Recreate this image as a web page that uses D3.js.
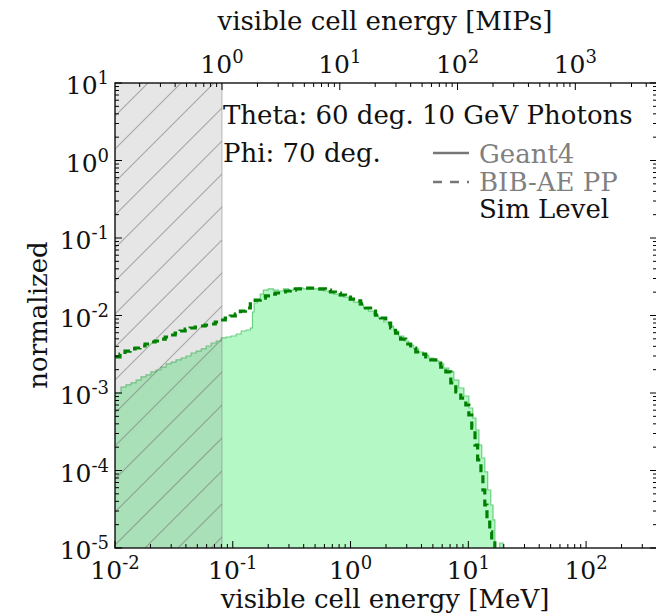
<!DOCTYPE html>
<html><head><meta charset="utf-8">
<script src="https://cdn.jsdelivr.net/npm/d3@7"></script>
<style>body{margin:0;background:#fff}</style>
</head><body>
<svg id="c" width="656" height="615"></svg>
<script>
// ---- data ----
// Geant4: left bin edges (MeV) and normalized values (step histogram)
const g4Energy = [0.0100,0.01125,0.0124,0.01368,0.0151,0.01664,0.01835,0.0202,0.0223,0.0246,0.0272,0.0300,0.0330,0.0365,0.0402,0.0443,0.0489,0.0540,0.0595,0.0656,0.0724,0.0798,0.0881,0.0971,0.107,0.118,0.130,0.141,0.147,0.152,0.162,0.171,0.182,0.200,0.221,0.244,0.269,0.297,0.327,0.361,0.398,0.439,0.484,0.535,0.589,0.650,0.717,0.791,0.872,0.962,1.06,1.17,1.29,1.42,1.57,1.73,1.91,2.10,2.32,2.56,2.83,3.12,3.44,3.79,4.18,4.61,5.08,5.61,6.18,6.82,7.53,8.30,9.16,10.1,10.9,11.6,12.3,13.0,13.8,14.6,15.5,16.2,16.8,18.5,19.7];
const g4Value = [1.00e-3,1.19e-3,1.27e-3,1.35e-3,1.47e-3,1.61e-3,1.71e-3,1.87e-3,1.98e-3,2.16e-3,2.37e-3,2.51e-3,2.67e-3,2.83e-3,3.00e-3,3.28e-3,3.48e-3,3.70e-3,4.04e-3,4.42e-3,4.69e-3,5.13e-3,5.28e-3,5.44e-3,5.77e-3,6.31e-3,6.50e-3,6.90e-3,0.0111,0.0145,0.0158,0.0189,0.0213,0.0220,0.0213,0.0207,0.0220,0.0213,0.0220,0.0226,0.0220,0.0226,0.0220,0.0213,0.0207,0.0201,0.0189,0.0179,0.0173,0.0158,0.0149,0.0136,0.0125,0.0114,0.0101,0.00929,0.00824,0.00732,0.00631,0.00544,0.00469,0.00416,0.00370,0.00338,0.00309,0.00283,0.00259,0.00237,0.00210,0.00187,0.00147,0.00116,9.15e-4,6.40e-4,4.75e-4,3.33e-4,2.13e-4,1.45e-4,9.6e-5,5.6e-5,3.59e-5,2.30e-5,1e-7,1.16e-5,1e-7];
// BIB-AE PP: left bin edges (MeV) and normalized values
const aeEnergy = [0.0100,0.01103,0.01216,0.01342,0.01480,0.0163,0.0180,0.0199,0.0219,0.0242,0.0267,0.0294,0.0324,0.0357,0.0394,0.0435,0.0480,0.0529,0.0583,0.0644,0.0710,0.0783,0.0863,0.0952,0.105,0.116,0.128,0.141,0.155,0.171,0.189,0.209,0.230,0.254,0.280,0.308,0.340,0.375,0.414,0.457,0.504,0.556,0.613,0.676,0.745,0.822,0.906,1.00,1.10,1.22,1.34,1.48,1.63,1.80,1.99,2.19,2.41,2.66,2.94,3.24,3.58,3.94,4.35,4.80,5.29,5.83,6.44,7.10,7.83,8.63,9.52,10.1,10.7,11.4,12.0,12.8,13.3,13.8,14.4,15.2,15.8,16.8];
const aeValue = [2.92e-3,3.18e-3,3.48e-3,3.70e-3,3.81e-3,4.04e-3,4.29e-3,4.55e-3,4.69e-3,4.97e-3,5.28e-3,5.60e-3,5.94e-3,6.31e-3,6.70e-3,6.90e-3,7.11e-3,7.32e-3,7.54e-3,7.77e-3,8.24e-3,8.75e-3,9.28e-3,9.85e-3,0.0104,0.0114,0.0125,0.0141,0.0158,0.0168,0.0179,0.0189,0.0195,0.0201,0.0207,0.0213,0.0220,0.0220,0.0226,0.0226,0.0220,0.0220,0.0213,0.0201,0.0195,0.0184,0.0173,0.0163,0.0154,0.0141,0.0125,0.0114,0.0101,0.00929,0.00800,0.00690,0.00594,0.00497,0.00429,0.00381,0.00338,0.00318,0.00292,0.00267,0.00244,0.00216,0.00187,1.35e-3,1.03e-3,8.6e-4,7.0e-4,5.2e-4,3.53e-4,2.13e-4,1.37e-4,8.7e-5,5.6e-5,3.59e-5,2.30e-5,1.61e-5,1.27e-5,1e-7];

const xMajorTicks = [1e-2,1e-1,1e0,1e1,1e2];
const xTickExps = ["-2","-1","0","1","2"];
const yMajorTicks = [1e1,1e0,1e-1,1e-2,1e-3,1e-4,1e-5];
const yTickExps = ["1","0","-1","-2","-3","-4","-5"];
const mipTicks = [1e0,1e1,1e2,1e3];
const mipTickExps = ["0","1","2","3"];
const mipInMeV = 0.081;       // 1 MIP in MeV (top axis conversion)
const cutMeV = 0.081;         // hatched region upper edge
const textLines = ["Theta: 60 deg. 10 GeV Photons","Phi: 70 deg."];
const legendNames = ["Geant4","BIB-AE PP","Sim Level"];

// ---- layout ----
const L=115, R=657, T=83, B=548;
const FONT = "DejaVu Serif";
const FS = 26, TFS = 25, SFS = 18;
const svg = d3.select("#c");
const x = d3.scaleLog().domain([1e-2,400]).range([L,R]);
const y = d3.scaleLog().domain([1e-5,1e1]).range([B,T]);
const xm = d3.scaleLog().domain([1e-2/mipInMeV, 400/mipInMeV]).range([L,R]);

const defs = svg.append("defs");
defs.append("clipPath").attr("id","clip").append("rect")
  .attr("x",L).attr("y",T).attr("width",R-L).attr("height",B-T);
const pat = defs.append("pattern").attr("id","hatch").attr("patternUnits","userSpaceOnUse")
  .attr("width",33).attr("height",33);
pat.append("path").attr("d","M0,33 L33,0 M-8,8 L8,-8 M25,41 L41,25")
  .attr("stroke","#707070").attr("stroke-opacity",0.55).attr("stroke-width",1.1);

const plot = svg.append("g").attr("clip-path","url(#clip)");

// Geant4 filled histogram
const g4 = g4Energy.map((e,i)=>({e, v:g4Value[i]}));
const yc = v => Math.min(y(Math.max(v,1e-7)), B+5);
plot.append("path").datum(g4)
  .attr("d", d3.area().curve(d3.curveStepAfter).x(d=>x(d.e)).y0(B+5).y1(d=>yc(d.v)))
  .attr("fill","#b4f8c6").attr("stroke","none");
plot.append("path").datum(g4)
  .attr("d", d3.line().curve(d3.curveStepAfter).x(d=>x(d.e)).y(d=>yc(d.v)))
  .attr("fill","none").attr("stroke","#6ccf82").attr("stroke-width",1.2);

// hatched cut region
plot.append("rect").attr("x",x(1e-2)).attr("y",T).attr("width",x(cutMeV)-x(1e-2)).attr("height",B-T)
  .attr("fill","#808080").attr("fill-opacity",0.2);
plot.append("rect").attr("x",x(1e-2)).attr("y",T).attr("width",x(cutMeV)-x(1e-2)).attr("height",B-T)
  .attr("fill","url(#hatch)").attr("stroke","#808080").attr("stroke-opacity",0.5);

// BIB-AE dashed
const ae = aeEnergy.map((e,i)=>({e, v:aeValue[i]}));
plot.append("path").datum(ae)
  .attr("d", d3.line().curve(d3.curveStepAfter).x(d=>x(d.e)).y(d=>yc(d.v)))
  .attr("fill","none").attr("stroke","#008000").attr("stroke-width",3.2).attr("stroke-dasharray","8,5");

// frame
svg.append("rect").attr("x",L).attr("y",T).attr("width",R-L).attr("height",B-T)
  .attr("fill","none").attr("stroke","#222").attr("stroke-width",1.5);

// ticks
function minorOf(scale){ return scale.ticks().filter(t=>{const l=Math.log10(t);return Math.abs(l-Math.round(l))>1e-6;}); }
const tk = svg.append("g").attr("stroke","#000").attr("stroke-width",1);
const xMinor = minorOf(x), yMinor = minorOf(y), mMinor = minorOf(xm);
xMajorTicks.forEach(t=>{const p=x(t); tk.append("line").attr("x1",p).attr("x2",p).attr("y1",B).attr("y2",B-7);});
xMinor.forEach(t=>{const p=x(t); tk.append("line").attr("x1",p).attr("x2",p).attr("y1",B).attr("y2",B-4);});
mipTicks.forEach(t=>{const p=xm(t); tk.append("line").attr("x1",p).attr("x2",p).attr("y1",T).attr("y2",T+7);});
mMinor.forEach(t=>{const p=xm(t); tk.append("line").attr("x1",p).attr("x2",p).attr("y1",T).attr("y2",T+4);});
yMajorTicks.forEach(t=>{const p=y(t); tk.append("line").attr("x1",L).attr("x2",L+7).attr("y1",p).attr("y2",p);
  tk.append("line").attr("x1",R).attr("x2",R-7).attr("y1",p).attr("y2",p);});
yMinor.forEach(t=>{const p=y(t); tk.append("line").attr("x1",L).attr("x2",L+4).attr("y1",p).attr("y2",p);
  tk.append("line").attr("x1",R).attr("x2",R-4).attr("y1",p).attr("y2",p);});

// tick labels
function powLabel(g, px, py, exp, anchor){
  const t = g.append("text").attr("x",px).attr("y",py).attr("text-anchor",anchor)
    .attr("font-family",FONT).attr("font-size",TFS).attr("fill","#111");
  t.append("tspan").text("10");
  t.append("tspan").attr("font-size",SFS).attr("dy",-10).text(exp);
  return t;
}
const lab = svg.append("g");
xMajorTicks.forEach((t,i)=>powLabel(lab, x(t), 579, xTickExps[i], "middle"));
mipTicks.forEach((t,i)=>powLabel(lab, xm(t), 73, mipTickExps[i], "middle"));
yMajorTicks.forEach((t,i)=>powLabel(lab, 109, y(t)+11, yTickExps[i], "end"));

// axis titles
svg.append("text").attr("x",385).attr("y",608).attr("text-anchor","middle")
  .attr("font-family",FONT).attr("font-size",FS).attr("fill","#111").text("visible cell energy [MeV]");
svg.append("text").attr("x",385).attr("y",30).attr("text-anchor","middle")
  .attr("font-family",FONT).attr("font-size",FS).attr("fill","#111").text("visible cell energy [MIPs]");
svg.append("text").attr("transform","translate(47,315) rotate(-90)").attr("text-anchor","middle")
  .attr("font-family",FONT).attr("font-size",FS).attr("fill","#111").text("normalized");

// annotations
svg.append("text").attr("x",223).attr("y",124).attr("font-family",FONT).attr("font-size",FS).attr("fill","#111").text(textLines[0]);
svg.append("text").attr("x",223).attr("y",162).attr("font-family",FONT).attr("font-size",FS).attr("fill","#111").text(textLines[1]);

// legend
const lg = svg.append("g");
lg.append("line").attr("x1",433).attr("x2",469).attr("y1",153).attr("y2",153).attr("stroke","#777").attr("stroke-width",2.5);
lg.append("line").attr("x1",433).attr("x2",469).attr("y1",182).attr("y2",182).attr("stroke","#777").attr("stroke-width",2.5).attr("stroke-dasharray","9,8");
lg.append("text").attr("x",479).attr("y",163).attr("font-family",FONT).attr("font-size",FS).attr("fill","#808080").text(legendNames[0]);
lg.append("text").attr("x",479).attr("y",191).attr("font-family",FONT).attr("font-size",FS).attr("fill","#808080").text(legendNames[1]);
lg.append("text").attr("x",479).attr("y",218).attr("font-family",FONT).attr("font-size",FS).attr("fill","#111").text(legendNames[2]);
</script>
</body></html>
